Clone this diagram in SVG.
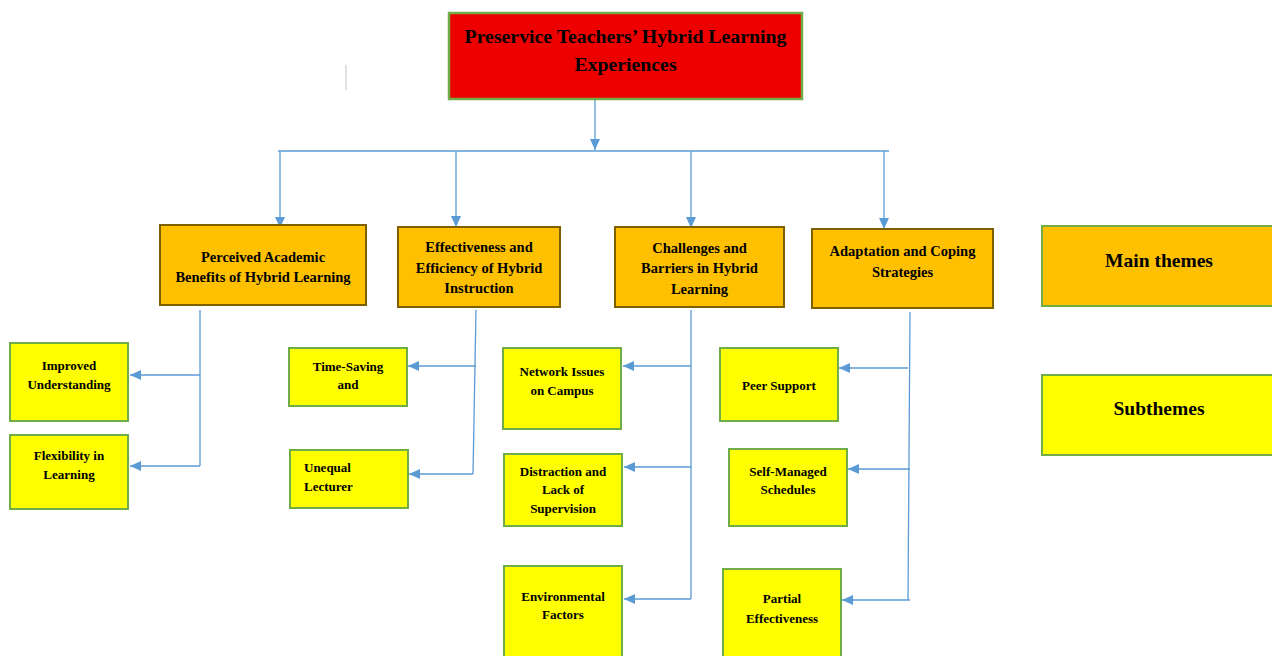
<svg xmlns="http://www.w3.org/2000/svg" width="1272" height="656" viewBox="0 0 1272 656">
<style>
.t{font-family:"Liberation Serif","Times New Roman",serif;font-weight:bold;fill:#000;text-anchor:middle}
.title{font-size:19.8px}
.main{font-size:14.5px}
.sub{font-size:13px}
.leg{font-size:19.5px}
.rm{fill:#FFC000;stroke:#7F6000;stroke-width:2}
.rs{fill:#FFFF00;stroke:#70AD47;stroke-width:2}
.c{fill:none;stroke:#5B9BD5;stroke-width:1.3}
.ca{fill:none;stroke:#5B9BD5;stroke-width:1.3;marker-end:url(#ah)}
</style>
<defs>
<marker id="ah" markerWidth="11" markerHeight="10" refX="11" refY="5" orient="auto" markerUnits="userSpaceOnUse">
<path d="M0,0 L11,5 L0,10 Z" fill="#5B9BD5"/>
</marker>
</defs>
<rect width="1272" height="656" fill="#fff"/>
<line x1="346" y1="65" x2="346" y2="90" stroke="#d9d9d9" stroke-width="1.5"/>

<g id="connectors">
<path class="ca" d="M595,99 V150"/>
<path class="c" d="M278,151 H889"/>
<path class="ca" d="M280,151 V228"/>
<path class="ca" d="M456,151 V227"/>
<path class="ca" d="M691,151 V228"/>
<path class="ca" d="M884,151 V229"/>

<path class="c" d="M200,310 V466"/>
<path class="ca" d="M200,375 H130"/>
<path class="ca" d="M200,466 H130"/>

<path class="c" d="M476,310 L473,474"/>
<path class="ca" d="M476,366 H408"/>
<path class="ca" d="M473,474 H409"/>

<path class="c" d="M691,310 V599"/>
<path class="ca" d="M691,366 H623"/>
<path class="ca" d="M691,467 H624"/>
<path class="ca" d="M691,599 H624"/>

<path class="c" d="M910,312 L908,600"/>
<path class="ca" d="M908,368 H839"/>
<path class="ca" d="M910,469 H848"/>
<path class="ca" d="M910,600 H842"/>
</g>

<g id="title">
<rect x="449" y="13" width="353" height="86" fill="#EE0000" stroke="#70AD47" stroke-width="2.5"/>
<text class="t title" x="625.5" y="43">Preservice Teachers’ Hybrid Learning</text>
<text class="t title" x="625.5" y="71">Experiences</text>
</g>

<g id="main1">
<rect class="rm" x="160" y="225" width="206" height="80"/>
<text class="t main" x="263" y="262">Perceived Academic</text>
<text class="t main" x="263" y="282">Benefits of Hybrid Learning</text>
</g>
<g id="main2">
<rect class="rm" x="398" y="227" width="162" height="80"/>
<text class="t main" x="479" y="252">Effectiveness and</text>
<text class="t main" x="479" y="273">Efficiency of Hybrid</text>
<text class="t main" x="479" y="293">Instruction</text>
</g>
<g id="main3">
<rect class="rm" x="615" y="227" width="169" height="80"/>
<text class="t main" x="699.5" y="253">Challenges and</text>
<text class="t main" x="699.5" y="273">Barriers in Hybrid</text>
<text class="t main" x="699.5" y="294">Learning</text>
</g>
<g id="main4">
<rect class="rm" x="812" y="229" width="181" height="79"/>
<text class="t main" x="902.5" y="256">Adaptation and Coping</text>
<text class="t main" x="902.5" y="277">Strategies</text>
</g>

<g id="legend-main">
<rect x="1042" y="226" width="234" height="80" fill="#FFC000" stroke="#70AD47" stroke-width="2"/>
<text class="t leg" x="1159" y="267">Main themes</text>
</g>
<g id="legend-sub">
<rect x="1042" y="375" width="234" height="80" fill="#FFFF00" stroke="#70AD47" stroke-width="2"/>
<text class="t leg" x="1159" y="415">Subthemes</text>
</g>

<g id="sub-improved">
<rect class="rs" x="10" y="343" width="118" height="78"/>
<text class="t sub" x="69" y="370">Improved</text>
<text class="t sub" x="69" y="389">Understanding</text>
</g>
<g id="sub-flexibility">
<rect class="rs" x="10" y="435" width="118" height="74"/>
<text class="t sub" x="69" y="460">Flexibility in</text>
<text class="t sub" x="69" y="479">Learning</text>
</g>

<g id="sub-timesaving">
<rect class="rs" x="289" y="348" width="118" height="58"/>
<text class="t sub" x="348" y="371">Time-Saving</text>
<text class="t sub" x="348" y="389">and</text>
</g>
<g id="sub-unequal">
<rect class="rs" x="290" y="450" width="118" height="58"/>
<text class="t sub" x="304" y="472" style="text-anchor:start">Unequal</text>
<text class="t sub" x="304" y="491" style="text-anchor:start">Lecturer</text>
</g>

<g id="sub-network">
<rect class="rs" x="503" y="348" width="118" height="81"/>
<text class="t sub" x="562" y="376">Network Issues</text>
<text class="t sub" x="562" y="395">on Campus</text>
</g>
<g id="sub-distraction">
<rect class="rs" x="504" y="454" width="118" height="72"/>
<text class="t sub" x="563" y="476">Distraction and</text>
<text class="t sub" x="563" y="494">Lack of</text>
<text class="t sub" x="563" y="513">Supervision</text>
</g>
<g id="sub-environmental">
<rect class="rs" x="504" y="566" width="118" height="96"/>
<text class="t sub" x="563" y="601">Environmental</text>
<text class="t sub" x="563" y="619">Factors</text>
</g>

<g id="sub-peer">
<rect class="rs" x="720" y="348" width="118" height="73"/>
<text class="t sub" x="779" y="390">Peer Support</text>
</g>
<g id="sub-selfmanaged">
<rect class="rs" x="729" y="449" width="118" height="77"/>
<text class="t sub" x="788" y="476">Self-Managed</text>
<text class="t sub" x="788" y="494">Schedules</text>
</g>
<g id="sub-partial">
<rect class="rs" x="723" y="569" width="118" height="93"/>
<text class="t sub" x="782" y="603">Partial</text>
<text class="t sub" x="782" y="623">Effectiveness</text>
</g>
</svg>
